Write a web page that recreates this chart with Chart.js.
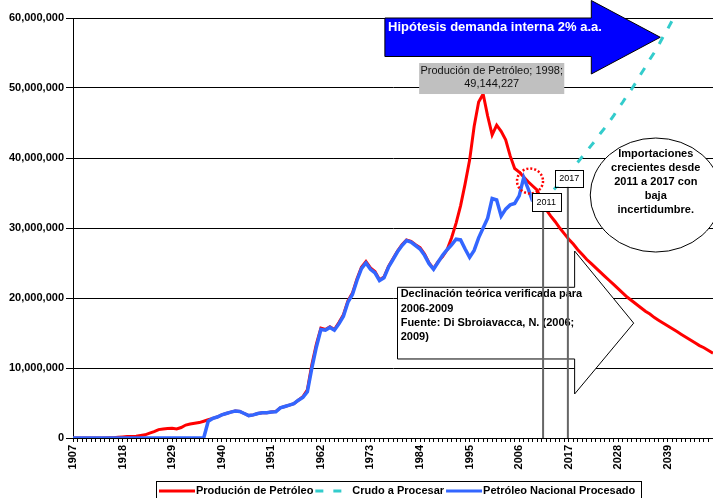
<!DOCTYPE html>
<html>
<head>
<meta charset="utf-8">
<script src="https://cdn.jsdelivr.net/npm/chart.js@4.4.1/dist/chart.umd.min.js"></script>
<style>
    html, body { margin: 0; padding: 0; background: #fff; }
    #contenedor { position: relative; width: 713px; height: 498px; }
</style>
</head>
<body>
<div id="contenedor"><canvas id="petroleo"></canvas></div>
<script>
const primerAnio = 1907;
const ultimoAnio = 2049;
const aniosEtiqueta = [1907, 1918, 1929, 1940, 1951, 1962, 1973, 1984, 1995, 2006, 2017, 2028, 2039];

// millones de m3, 1907 a 2049
const produccion = [
    0, 0, 0, 0, 0, 0, 0, 0, 0.02, 0.05,
    0.1, 0.15, 0.2, 0.22, 0.25, 0.35, 0.45, 0.7, 0.9, 1.2,
    1.3, 1.35, 1.4, 1.3, 1.5, 1.85, 2.0, 2.1, 2.2, 2.4,
    2.6, 2.8, 3.0, 3.3, 3.5, 3.7, 3.85, 3.8, 3.5, 3.2,
    3.3, 3.5, 3.6, 3.6, 3.7, 3.8, 4.3, 4.5, 4.7, 4.9,
    5.4, 5.9, 6.9, 10.5, 13.4, 15.7, 15.5, 15.9, 15.5, 16.5,
    17.6, 19.6, 20.7, 22.7, 24.4, 25.2, 24.3, 23.8, 22.6, 23.0,
    24.5, 25.6, 26.7, 27.6, 28.3, 28.1, 27.6, 27.2, 26.3, 25.0,
    24.2, 25.2, 25.9, 26.9, 28.6, 30.7, 33.2, 36.3, 39.7, 44.5,
    48.0, 49.144227, 46.0, 43.3, 44.7, 43.8, 42.6, 40.3, 38.5, 38.0,
    37.3, 36.6, 36.0, 35.4, 33.8, 32.6, 31.7, 30.9, 30.0, 29.2,
    28.4, 27.7, 26.9, 26.2, 25.5, 24.9, 24.3, 23.7, 23.1, 22.5,
    21.9, 21.3, 20.7, 20.1, 19.6, 19.1, 18.6, 18.1, 17.7, 17.2,
    16.8, 16.4, 16.0, 15.6, 15.2, 14.8, 14.4, 14.0, 13.6, 13.2,
    12.9, 12.5, 12.1
];

// millones de m3, 2011 a 2049
const crudoDesde = 2011;
const crudoProcesar = [
    33.6, 34.3, 35.0, 35.7, 36.4, 37.1, 37.8, 38.6, 39.4, 40.2,
    41.0, 41.8, 42.6, 43.5, 44.3, 45.2, 46.1, 47.1, 48.0, 49.0,
    49.9, 50.9, 52.0, 53.0, 54.1, 55.1, 56.2, 57.4, 58.5, 59.7,
    60.9, 62.1, 63.4, 64.6, 65.9, 67.2, 68.6, 69.9, 71.3
];

// millones de m3, 1907 a 2009
const nacionalProcesado = [
    0, 0, 0, 0, 0, 0, 0, 0, 0, 0,
    0, 0, 0, 0, 0, 0, 0, 0, 0, 0,
    0, 0, 0, 0, 0, 0, 0, 0, 0, 0,
    2.4, 2.8, 3.0, 3.3, 3.5, 3.7, 3.85, 3.8, 3.5, 3.2,
    3.3, 3.5, 3.6, 3.6, 3.7, 3.75, 4.3, 4.5, 4.7, 4.9,
    5.4, 5.8, 6.6, 10.0, 13.0, 15.5, 15.4, 15.8, 15.4, 16.3,
    17.4, 19.4, 20.5, 22.5, 24.2, 25.0, 24.1, 23.6, 22.5, 22.9,
    24.4, 25.5, 26.6, 27.5, 28.2, 28.0, 27.5, 27.0, 26.1, 24.9,
    24.1, 25.1, 26.1, 26.9, 27.6, 28.4, 28.3, 27.0, 25.8, 26.8,
    28.6, 30.0, 31.4, 34.2, 34.0, 31.7, 32.7, 33.3, 33.5, 34.6,
    37.2, 35.6, 33.8
];

const anios = [];
for (let a = primerAnio; a <= ultimoAnio; a++) anios.push(a);

const serie = (desde, valores) => anios.map(a => {
    const i = a - desde;
    return i >= 0 && i < valores.length ? valores[i] * 1e6 : null;
});

const fuente = '"Liberation Sans", Arial, sans-serif';

// posiciones de los recuadros en unidades del grafico (anio, millones)
const flechaAzul = { x1: 1976.2, x2: 2022.0, punta: 2037.3, top: 60.0, bot: 54.5, cabTop: 62.5, cabBot: 52.0, puntaY: 57.25 };
const flechaBlanca = { x1: 1979.0, x2: 2018.3, punta: 2031.4, top: 21.53, bot: 11.29, cabTop: 26.71, cabBot: 6.29, puntaY: 16.41 };

const dibujarFlecha = (ctx, px, py, f, relleno) => {
    ctx.beginPath();
    ctx.moveTo(px(f.x1), py(f.top));
    ctx.lineTo(px(f.x2), py(f.top));
    ctx.lineTo(px(f.x2), py(f.cabTop));
    ctx.lineTo(px(f.punta), py(f.puntaY));
    ctx.lineTo(px(f.x2), py(f.cabBot));
    ctx.lineTo(px(f.x2), py(f.bot));
    ctx.lineTo(px(f.x1), py(f.bot));
    ctx.closePath();
    ctx.fillStyle = relleno;
    ctx.fill();
    ctx.strokeStyle = '#000';
    ctx.lineWidth = 1;
    ctx.stroke();
};

const cajaAnio = (ctx, cx, cy, w, h, texto) => {
    ctx.fillStyle = '#fff';
    ctx.fillRect(cx - w / 2, cy - h / 2, w, h);
    ctx.strokeStyle = '#000';
    ctx.lineWidth = 1;
    ctx.strokeRect(Math.round(cx - w / 2) + 0.5, Math.round(cy - h / 2) + 0.5, w, h);
    ctx.fillStyle = '#000';
    ctx.font = '9px ' + fuente;
    ctx.textAlign = 'center';
    ctx.textBaseline = 'middle';
    ctx.fillText(texto, cx, cy + 0.5);
};

const anotaciones = {
    id: 'anotaciones',
    afterDatasetsDraw(chart) {
        const { ctx, scales } = chart;
        const px = a => scales.x.getPixelForValue(a);
        const py = m => scales.y.getPixelForValue(m * 1e6);
        ctx.save();

        // flecha blanca de declinacion
        dibujarFlecha(ctx, px, py, flechaBlanca, '#fff');
        ctx.fillStyle = '#000';
        ctx.font = 'bold 11px ' + fuente;
        ctx.textAlign = 'left';
        ctx.textBaseline = 'middle';
        ['Declinación teórica verificada para', '2006-2009', 'Fuente: Di Sbroiavacca, N. (2006;', '2009)']
            .forEach((t, i) => ctx.fillText(t, px(1979.7), py(20.53) + i * 14.3));

        // lineas verticales 2011 y 2017
        ctx.strokeStyle = '#666';
        ctx.lineWidth = 2;
        [[2011.3, 32.4], [2016.8, 35.9]].forEach(([a, m]) => {
            ctx.beginPath();
            ctx.moveTo(px(a), py(m));
            ctx.lineTo(px(a), scales.y.bottom);
            ctx.stroke();
        });

        // elipse de importaciones
        ctx.beginPath();
        ctx.ellipse(px(2036.3), py(34.71), 65.5, 57, 0, 0, Math.PI * 2);
        ctx.fillStyle = '#fff';
        ctx.fill();
        ctx.strokeStyle = '#000';
        ctx.lineWidth = 1;
        ctx.stroke();
        ctx.fillStyle = '#000';
        ctx.font = 'bold 11px ' + fuente;
        ctx.textAlign = 'center';
        ['Importaciones', 'crecientes desde', '2011 a 2017 con', 'baja', 'incertidumbre.']
            .forEach((t, i) => ctx.fillText(t, px(2036.3), py(40.57) + i * 14));

        // flecha azul
        dibujarFlecha(ctx, px, py, flechaAzul, '#0000FF');
        ctx.fillStyle = '#fff';
        ctx.font = 'bold 13px ' + fuente;
        ctx.textAlign = 'left';
        ctx.fillText('Hipótesis demanda interna 2% a.a.', px(1976.9), py(58.67));

        // etiqueta del pico
        ctx.fillStyle = '#C0C0C0';
        ctx.fillRect(px(1983.8), py(53.57), px(2016.0) - px(1983.8), py(49.14) - py(53.57));
        ctx.fillStyle = '#111';
        ctx.font = '11px ' + fuente;
        ctx.textAlign = 'center';
        ctx.fillText('Produción de Petróleo; 1998;', px(1999.9), py(52.39));
        ctx.fillText('49,144,227', px(1999.9), py(50.53));

        // circulo punteado
        ctx.beginPath();
        ctx.ellipse(px(2008.4), py(36.71), 13, 12.5, 0, 0, Math.PI * 2);
        ctx.strokeStyle = '#FF0000';
        ctx.lineWidth = 2.5;
        ctx.setLineDash([2, 2]);
        ctx.stroke();
        ctx.setLineDash([]);

        cajaAnio(ctx, px(2012.0), py(33.71), 29, 18, '2011');
        cajaAnio(ctx, px(2017.1), py(37.14), 28, 17, '2017');

        ctx.restore();
    },
    afterDraw(chart) {
        const ctx = chart.ctx;
        ctx.save();
        ctx.font = 'bold 11px ' + fuente;
        ctx.textBaseline = 'middle';
        ctx.textAlign = 'left';
        const medio = 491;
        let xPos = 159;
        chart.data.datasets.forEach(ds => {
            ctx.strokeStyle = ds.borderColor;
            ctx.lineWidth = 3;
            ctx.setLineDash(ds.borderDash || []);
            ctx.beginPath();
            ctx.moveTo(xPos, medio);
            ctx.lineTo(xPos + 36, medio);
            ctx.stroke();
            ctx.setLineDash([]);
            xPos += 37;
            ctx.fillStyle = '#000';
            ctx.fillText(ds.label, xPos, medio);
            xPos += ctx.measureText(ds.label).width + 2;
        });
        ctx.strokeStyle = '#000';
        ctx.lineWidth = 1;
        ctx.strokeRect(156.5, 481.5, Math.round(xPos) + 4 - 156, 30);
        ctx.restore();
    }
};

const renderChart = () => {
    Chart.defaults.font.family = fuente;
    new Chart(document.getElementById('petroleo'), {
        type: 'line',
        data: {
            labels: anios,
            datasets: [{
                label: 'Produción de Petróleo',
                data: serie(primerAnio, produccion),
                borderColor: '#FF0000',
                borderWidth: 3,
                order: 3,
            }, {
                label: 'Crudo a Procesar',
                data: serie(crudoDesde, crudoProcesar),
                borderColor: '#33CCCC',
                borderWidth: 3,
                borderDash: [8, 10],
                order: 2,
            }, {
                label: 'Petróleo Nacional Procesado',
                data: serie(primerAnio, nacionalProcesado),
                borderColor: '#3366FF',
                borderWidth: 3.5,
                order: 1,
            }]
        },
        options: {
            responsive: true,
            maintainAspectRatio: false,
            animation: false,
            layout: { padding: { top: 18, bottom: 24, left: 0, right: 0 } },
            elements: { point: { radius: 0 }, line: { tension: 0 } },
            plugins: { legend: { display: false }, tooltip: { enabled: false } },
            scales: {
                x: {
                    type: 'linear',
                    min: primerAnio,
                    max: ultimoAnio,
                    afterBuildTicks: s => { s.ticks = anios.map(v => ({ value: v })); },
                    afterFit: s => { s.height = 36; s.paddingLeft = 0; s.paddingRight = 0; },
                    ticks: {
                        autoSkip: false,
                        minRotation: 90,
                        maxRotation: 90,
                        padding: 3,
                        color: '#000',
                        font: { size: 11, weight: 'bold' },
                        callback: v => aniosEtiqueta.includes(v) ? String(v) : '',
                    },
                    grid: { drawOnChartArea: false, tickLength: 4, color: '#000' },
                    border: { color: '#000', width: 1 },
                },
                y: {
                    min: 0,
                    max: 60e6,
                    afterFit: s => { s.width = 73; },
                    ticks: {
                        stepSize: 10e6,
                        padding: 2,
                        color: '#000',
                        font: { size: 11, weight: 'bold' },
                        callback: v => v.toLocaleString('en-US'),
                    },
                    grid: { color: '#000', tickLength: 7 },
                    border: { color: '#000', width: 1 },
                }
            }
        },
        plugins: [anotaciones],
    });
};

// Dibujar la grafica cuando el DOM este listo
document.addEventListener('DOMContentLoaded', () => {
    renderChart();
});
</script>
</body>
</html>
